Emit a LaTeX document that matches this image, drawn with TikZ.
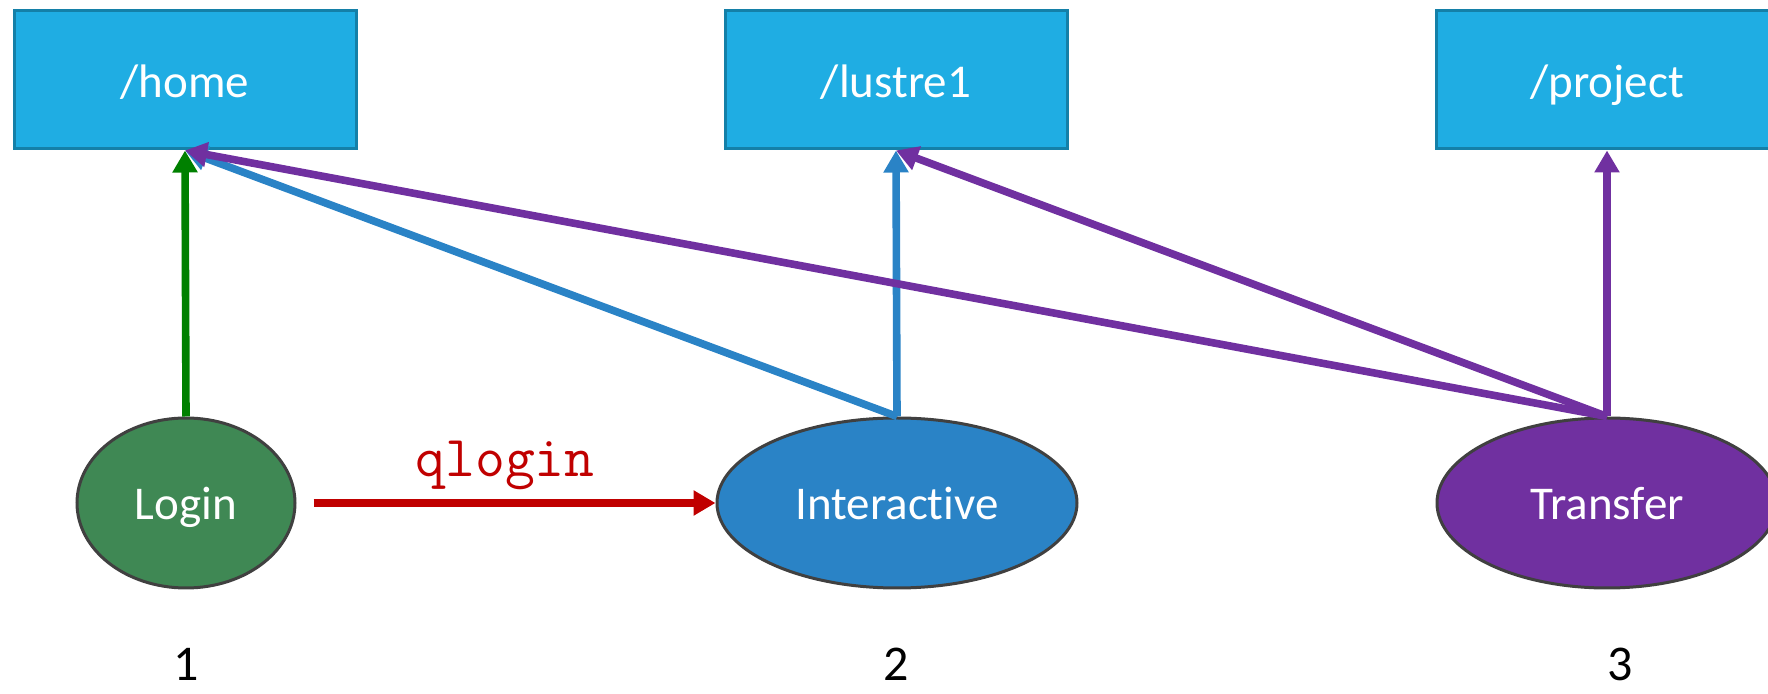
\documentclass[tikz,border=0pt]{standalone}
\usepackage{fontspec}
\setmainfont{Carlito}[Ligatures=NoCommon]
\usetikzlibrary{shapes.geometric}
\usetikzlibrary{arrows.meta}

\definecolor{boxblue}{RGB}{31,173,227}
\definecolor{boxedge}{RGB}{20,128,168}
\definecolor{logingreen}{RGB}{63,136,84}
\definecolor{interblue}{RGB}{42,131,198}
\definecolor{transpurple}{RGB}{112,48,160}
\definecolor{arrowgreen}{RGB}{0,128,0}
\definecolor{arrowred}{RGB}{192,0,0}
\definecolor{rimgray}{RGB}{64,64,64}

\begin{document}
\begin{tikzpicture}[x=0.5pt, y=-0.5pt,
        fsbox/.style={draw=boxedge, line width=1.5pt, fill=boxblue, minimum width=171pt,
            minimum height=69pt, text=white, text height=17.5pt, text depth=0pt,
            font=\fontsize{23.5}{28}\selectfont},
        hostnode/.style={ellipse, draw=rimgray, line width=1.5pt, minimum height=85pt,
            text=white, text height=17pt, text depth=0pt, font=\fontsize{23.5}{28}\selectfont},
        link/.style={line width=3.8pt, -{Triangle[length=11pt,width=12pt]}},
        numlabel/.style={anchor=base, inner sep=0pt, font=\fontsize{25}{30}\selectfont}]
            \useasboundingbox (0,0) rectangle (1768,694);

            % file systems
            \node[fsbox] (home) at (185,80) {/home};
            \node[fsbox] (lustre) at (896,80) {/lustre1};
            \node[fsbox] (project) at (1607,80) {/project};

            % nodes
            \node[hostnode, fill=logingreen, minimum width=109pt] (login) at (186,503) {Login};
            \node[hostnode, fill=interblue, minimum width=180pt] (inter) at (897,503) {Interactive};
            \node[hostnode, fill=transpurple, minimum width=170pt] (trans) at (1607,503) {Transfer};

            % mounts
            \draw[link, arrowgreen] (login.north) -- (home.south);
            \draw[link, interblue] (inter.north) -- (home.south);
            \draw[link, interblue] (inter.north) -- (lustre.south);
            \draw[link, transpurple] (trans.north) -- (home.south);
            \draw[link, transpurple] (trans.north) -- (lustre.south);
            \draw[link, transpurple] (trans.north) -- (project.south);

            \draw[link, arrowred, shorten <=8.5pt] (login.east) -- (inter.west);
            \node[anchor=base, text=arrowred, font=\ttfamily\fontsize{29}{32}\selectfont] (qlog) at (505,477) {qlogin};

            \node[numlabel] (one) at (186,681) {1};
            \node[numlabel] (two) at (896,681) {2};
            \node[numlabel] (three) at (1620,681) {3};
        \end{tikzpicture}
\end{document}
